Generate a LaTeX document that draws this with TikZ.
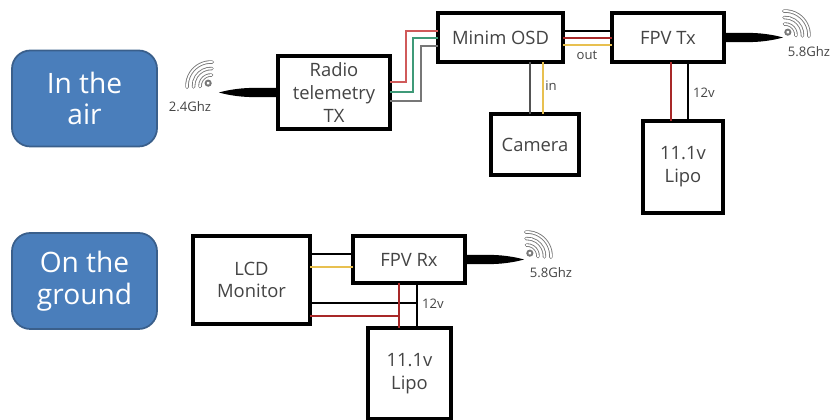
\documentclass[tikz,border=0pt]{standalone}
\usepackage{fontspec}
\setmainfont{Open Sans}
\usetikzlibrary{calc}
\definecolor{skyfill}{HTML}{4A7EBB}
\definecolor{skyline}{HTML}{3A5F8B}
\definecolor{inktext}{HTML}{444444}
\definecolor{softred}{HTML}{D05A5A}
\definecolor{softgreen}{HTML}{3F9A78}
\definecolor{softgray}{HTML}{777777}
\definecolor{softyellow}{HTML}{E8C050}
\definecolor{deepred}{HTML}{A82828}
\tikzset{
  block/.style={draw=black,line width=2.7pt,fill=white,outer sep=0pt,inner sep=0pt,align=center,
    text=inktext,font=\fontsize{15.7}{19.5}\selectfont},
  place/.style={draw=skyline,line width=1.5pt,fill=skyfill,rounded corners=.55cm,outer sep=0pt,inner sep=0pt,
    align=center,text=white,minimum width=4.35cm,minimum height=2.88cm,font=\fontsize{24}{27}\selectfont},
  note/.style={text=inktext,inner sep=0pt,font=\fontsize{11.2}{13}\selectfont},
  smallnote/.style={text=inktext,inner sep=0pt,font=\fontsize{11.2}{13}\selectfont},
  thinwire/.style={draw=#1,line width=1.15pt},
  fatwire/.style={draw=#1,line width=2.3pt},
  antenna/.pic={\fill[black] (0,4.6) -- (26,4.6) .. controls (40,4.4) and (52,2) .. (59,0)
    .. controls (52,-2) and (40,-4.4) .. (26,-4.6) -- (0,-4.6) -- cycle;},
  wifi/.pic={\fill[softgray] (4,0) circle (3.6);\fill[white] (4,0) circle (1.8);
    \foreach \r in {11,17.5,24} \draw[softgray,line width=3pt,line cap=round] (-48:\r) arc (-48:48:\r);
    \foreach \r in {11,17.5,24} \draw[white,line width=1.5pt,line cap=round] (-48:\r) arc (-48:48:\r);}
}
\begin{document}
\begin{tikzpicture}[x=.03cm,y=.03cm]
\useasboundingbox (0,0) rectangle (833,420);
% in the air
\node[place] (air) at (84.5,321.5) {In the\\air};
\node[block,minimum width=3.36cm,minimum height=2.19cm] (radio) at (334,327.5) {Radio\\telemetry\\TX};
\node[block,minimum width=3.75cm,minimum height=1.47cm] (osd) at (500.5,382.5) {Minim OSD};
\node[block,minimum width=3.36cm,minimum height=1.47cm] (fpvtx) at (668,382.5) {FPV Tx};
\node[block,minimum width=2.64cm,minimum height=1.83cm] (camera) at (535,275.5) {Camera};
\node[block,minimum width=2.4cm,minimum height=2.76cm] (lipotx) at (683,253) {11.1v\\Lipo};
% on the ground
\node[place] (ground) at (84.5,139) {On the\\ground};
\node[block,minimum width=3.51cm,minimum height=2.64cm] (lcd) at (251.5,140) {LCD\\Monitor};
\node[block,minimum width=3.36cm,minimum height=1.41cm] (fpvrx) at (409,160.5) {FPV Rx};
\node[block,minimum width=2.49cm,minimum height=2.73cm] (liporx) at (409.5,46.5) {11.1v\\Lipo};
% radio to osd
\draw[thinwire=softred] ($(radio.east)+(0,10.5)$) -- ++(16,0) |- ($(osd.west)+(0,6.5)$);
\draw[thinwire=softgreen] ($(radio.east)+(0,.5)$) -- ++(23,0) |- ($(osd.west)+(0,-.5)$);
\draw[thinwire=softgray] ($(radio.east)+(0,-8.5)$) -- ++(31,0) |- ($(osd.west)+(0,-8.5)$);
% osd to fpv tx
\draw[thinwire=black] ($(osd.east)+(0,6.5)$) -- ($(fpvtx.west)+(0,6.5)$);
\draw[thinwire=deepred] ($(osd.east)+(0,-.5)$) -- ($(fpvtx.west)+(0,-.5)$);
\draw[thinwire=softyellow] ($(osd.east)+(0,-7.5)$) -- ($(fpvtx.west)+(0,-7.5)$);
% camera to osd
\draw[thinwire=softgray!70!black] ($(camera.north)+(-5,0)$) -- ($(osd.south)+(29.5,0)$);
\draw[thinwire=softyellow] ($(camera.north)+(8,0)$) -- ($(osd.south)+(42.5,0)$);
% lipo to fpv tx
\draw[fatwire=deepred] ($(lipotx.north)+(-12,0)$) -- ($(fpvtx.south)+(3,0)$);
\draw[fatwire=black] ($(lipotx.north)+(5,0)$) -- ($(fpvtx.south)+(20,0)$);
% lcd to fpv rx
\draw[thinwire=black] ($(lcd.east)+(0,26)$) -- ($(fpvrx.west)+(0,5.5)$);
\draw[thinwire=softyellow] ($(lcd.east)+(0,13)$) -- ($(fpvrx.west)+(0,-7.5)$);
% lipo to fpv rx, lcd taps
\coordinate (rxred) at ($(fpvrx.south)+(-10,0)$);
\coordinate (rxblack) at ($(fpvrx.south)+(8,0)$);
\draw[fatwire=black,line width=1.7pt] ($(lcd.east)+(0,-23)$) coordinate (lcdblack) -- (lcdblack -| rxblack);
\draw[fatwire=deepred] ($(lcd.east)+(0,-36)$) coordinate (lcdred) -- (lcdred -| rxred);
\draw[fatwire=black,line width=1.7pt] (rxblack) -- (rxblack |- liporx.north);
\draw[fatwire=deepred] (rxred) -- (rxred |- liporx.north);
% antennas
\pic at (radio.west) [xscale=-1] {antenna};
\pic at (fpvtx.east) {antenna};
\pic at (fpvrx.east) {antenna};
\pic[rotate=135] at (211,334) {wifi};
\pic[rotate=45] at (785,385) {wifi};
\pic[rotate=45] at (527,164) {wifi};
% labels
\node[note] (band24) at (190,313) {2.4Ghz};
\node[note] (band58tx) at (809,368) {5.8Ghz};
\node[note] (band58rx) at (551,147) {5.8Ghz};
\node[smallnote] (outlabel) at (587,365) {out};
\node[smallnote] (inlabel) at (551,334) {in};
\node[smallnote] (voltstx) at (704,327) {12v};
\node[smallnote] (voltsrx) at (433,116) {12v};
\end{tikzpicture}
\end{document}
